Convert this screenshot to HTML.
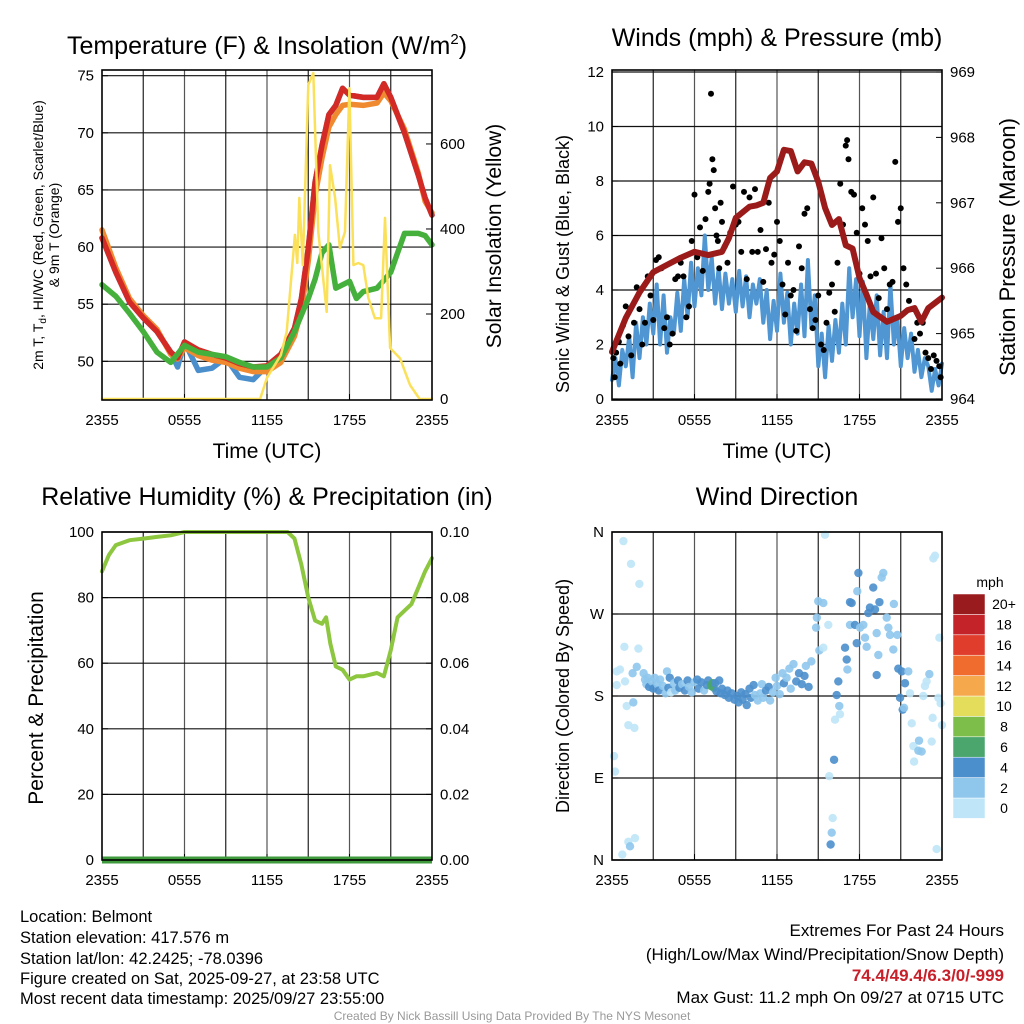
<!DOCTYPE html>
<html><head><meta charset="utf-8"><style>
html,body{margin:0;padding:0;background:#fff;}
svg{display:block;font-family:"Liberation Sans",sans-serif;}
</style></head><body>
<svg id="s" width="1024" height="1024" viewBox="0 0 1024 1024">
<g id="static">
<text x="267" y="54" font-size="25" text-anchor="middle">Temperature (F) &amp; Insolation (W/m<tspan dy="-10" font-size="15">2</tspan><tspan dy="10">)</tspan></text>
<text x="777" y="46" font-size="25" text-anchor="middle">Winds (mph) &amp; Pressure (mb)</text>
<text x="267" y="505" font-size="25" text-anchor="middle">Relative Humidity (%) &amp; Precipitation (in)</text>
<text x="777" y="505" font-size="25" text-anchor="middle">Wind Direction</text>
<text x="267" y="458" font-size="21" text-anchor="middle">Time (UTC)</text>
<text x="777" y="458" font-size="21" text-anchor="middle">Time (UTC)</text>
<text transform="translate(43,235) rotate(-90)" font-size="14" text-anchor="middle">2m T, T<tspan dy="3" font-size="10">d</tspan><tspan dy="-3">, HI/WC (Red, Green, Scarlet/Blue)</tspan></text>
<text transform="translate(59,235) rotate(-90)" font-size="14" text-anchor="middle">&amp; 9m T (Orange)</text>
<text transform="translate(501,236) rotate(-90)" font-size="21" text-anchor="middle">Solar Insolation (Yellow)</text>
<text transform="translate(569,264) rotate(-90)" font-size="18" text-anchor="middle">Sonic Wind &amp; Gust (Blue, Black)</text>
<text transform="translate(1015,247) rotate(-90)" font-size="22" text-anchor="middle">Station Pressure (Maroon)</text>
<text transform="translate(43,698) rotate(-90)" font-size="21" text-anchor="middle">Percent &amp; Precipitation</text>
<text transform="translate(569,696) rotate(-90)" font-size="18" text-anchor="middle">Direction (Colored By Speed)</text>
<text x="990" y="587" font-size="14" text-anchor="middle">mph</text>
<g font-size="16.5">
<text x="20" y="922">Location: Belmont</text>
<text x="20" y="943">Station elevation: 417.576 m</text>
<text x="20" y="964">Station lat/lon: 42.2425; -78.0396</text>
<text x="20" y="984">Figure created on Sat, 2025-09-27, at 23:58 UTC</text>
<text x="20" y="1004">Most recent data timestamp: 2025/09/27 23:55:00</text>
</g>
<g font-size="17" text-anchor="end">
<text x="1004" y="936">Extremes For Past 24 Hours</text>
<text x="1004" y="960">(High/Low/Max Wind/Precipitation/Snow Depth)</text>
<text x="1004" y="981" fill="#c8202a" font-weight="bold">74.4/49.4/6.3/0/-999</text>
<text x="1004" y="1003">Max Gust: 11.2 mph On 09/27 at 0715 UTC</text>
</g>
<text x="512" y="1020" font-size="12" fill="#999" text-anchor="middle">Created By Nick Bassill Using Data Provided By The NYS Mesonet</text>
</g>
<g id="g"></g>
</svg>
<script>
// ---------- data ----------
const xTickLabels = ["2355","0555","1155","1755","2355"];
const tHours = [0,1,2,3,4,5,5.5,6,7,8,9,10,11,12,13,14,14.5,15,15.5,16,16.5,17,17.5,18,19,20,20.5,21,22,23,23.5,24];
const tempRed = [60.8,57.8,55.2,53.8,52.6,50.8,50.3,51.7,51.0,50.6,50.3,49.8,49.5,49.6,50.6,52.9,55.5,59.9,65.7,68.9,71.6,72.4,73.9,73.3,73.1,73.1,74.3,73.1,70.0,66.3,64.3,62.8];
const tempOrange = [61.5,58.2,55.5,54.0,52.8,50.6,50.2,51.2,50.5,50.1,49.9,49.4,49.1,49.1,49.9,52.2,54.5,58.8,64.5,67.8,70.5,71.6,72.4,72.5,72.4,72.6,73.5,72.8,70.3,66.5,64.0,63.0];
const tempBlue = [60.8,57.8,55.2,53.8,52.6,50.8,49.5,51.7,49.2,49.4,50.3,48.6,48.4,49.6,50.6,52.9,55.5,59.9,65.7,68.9,71.6,72.4,73.9,73.3,73.1,73.1,74.3,73.1,70.0,66.3,64.3,62.8];
const dewHours = [0,1,2,3,4,5,6,7,8,9,10,11,12,13,14,15,15.5,16,16.5,17,18,18.5,19,20,21,21.5,22,23,23.5,24];
const dewGreen = [56.7,55.7,54.2,52.6,50.8,49.9,51.4,50.8,50.6,50.4,49.9,49.5,49.5,50.3,52.6,55.5,57.2,59.5,60.2,56.4,57.0,55.5,56.1,56.4,57.8,59.5,61.2,61.2,61.0,60.2];
const solarHours = [0,11.5,12,13,13.43,14.03,14.2,14.35,14.6,15.0,15.37,15.73,16.34,16.58,16.95,17.3,17.67,17.99,18.28,18.64,19.0,19.37,19.85,20.3,20.58,20.95,21.67,22.4,23.1,24];
const solarVals = [0,0,50,103,158,386,320,473,315,739,767,393,205,550,473,355,393,731,315,320,315,238,190,190,426,120,96,33,0,0];
const tempTicks = [50,55,60,65,70,75];
const solarTicks = [0,200,400,600];

const windHours = [];for(let i=0;i<=96;i++)windHours.push(i/4);
const sonicWind = [0.7,1.5,0.5,1.8,1.2,2.3,0.8,2.8,1.5,3.0,2.0,3.5,2.4,4.2,2.0,3.8,1.7,3.0,2.4,3.9,2.5,4.4,3.0,5.0,3.4,4.8,3.8,6.0,4.0,5.2,3.5,4.8,3.3,4.6,3.5,4.4,3.2,4.7,3.4,4.5,3.0,4.2,3.5,4.4,2.8,4.0,2.2,3.6,2.5,4.6,2.8,3.9,2.0,3.5,2.4,4.2,2.3,5.1,2.6,3.8,1.2,2.4,0.8,2.7,1.4,2.9,1.7,3.5,2.0,4.8,3.0,4.4,2.3,4.3,1.5,3.5,2.2,3.8,1.6,3.2,1.5,4.2,2.0,3.0,1.2,2.6,1.5,2.4,1.0,1.8,0.8,1.5,1.2,0.3,1.1,0.5,1.3];
const gustHours = [0.1,0.2,0.3,0.5,0.6,0.8,1.0,1.2,1.4,1.6,1.8,2.0,2.2,2.4,2.6,2.8,3.0,3.2,3.4,3.6,3.8,4.0,4.2,4.4,4.6,4.8,5.0,5.2,5.4,5.6,5.8,6.0,6.2,6.4,6.6,6.8,7.0,7.1,7.2,7.3,7.4,7.5,7.6,7.7,7.8,7.9,8.0,8.2,8.4,8.6,8.8,9.0,9.2,9.4,9.6,9.8,10.0,10.2,10.4,10.6,10.8,11.0,11.2,11.4,11.6,11.8,12.0,12.2,12.4,12.6,12.8,13.0,13.2,13.4,13.6,13.8,14.0,14.2,14.4,14.6,14.8,15.0,15.2,15.4,15.6,15.8,16.0,16.2,16.4,16.6,16.8,17.0,17.1,17.2,17.4,17.6,17.8,18.0,18.2,18.4,18.6,18.8,19.0,19.2,19.4,19.6,19.8,20.0,20.2,20.4,20.6,20.8,21.0,21.2,21.4,21.6,21.8,22.0,22.2,22.4,22.6,22.8,23.0,23.2,23.4,23.6,23.8,23.9];
const gustVals = [1.5,0.8,1.7,2.1,1.3,2.7,3.4,2.3,1.6,2.8,4.1,3.3,2.0,2.8,4.5,3.8,2.9,5.1,5.2,4.8,2.6,3.0,2.0,2.4,4.4,4.5,5.0,4.5,3.0,3.4,5.8,7.5,5.2,6.3,4.7,6.6,7.6,7.9,11.2,8.8,8.4,7.0,6.0,5.8,4.8,7.2,6.5,5.6,5.0,6.1,7.8,6.4,6.5,5.4,7.6,4.4,7.4,5.4,7.7,5.4,6.2,4.3,5.5,7.2,5.0,5.3,6.5,5.8,4.2,3.1,5.0,3.8,4.0,2.5,5.6,4.8,6.8,7.0,3.3,2.6,2.9,3.8,2.0,1.8,2.8,3.9,4.2,3.2,5.0,7.9,6.4,9.3,9.5,8.8,7.6,7.5,6.1,4.6,7.0,6.4,5.8,4.5,7.4,4.6,3.7,5.9,4.8,3.3,4.2,4.3,8.7,6.5,7.0,4.8,4.2,3.6,3.3,2.2,2.8,2.4,2.8,1.7,1.5,1.1,1.6,1.4,1.2,0.8];
const presHours = [0,1,2,3,4,5,6,7,8,8.5,9,10,10.5,11,11.5,12,12.5,13,13.5,14,14.5,15,15.5,16,16.5,17,17.5,18,18.5,19,20,21,21.5,22,22.5,23,24];
const presVals = [964.72,965.24,965.63,965.94,966.05,966.16,966.25,966.2,966.25,966.46,966.77,966.94,966.96,967.0,967.38,967.48,967.81,967.79,967.48,967.62,967.6,967.32,966.92,966.66,966.75,966.35,966.3,965.85,965.6,965.33,965.18,965.27,965.36,965.39,965.18,965.39,965.55];
const windTicks = [0,2,4,6,8,10,12];
const presTicks = [964,965,966,967,968,969];

const rhHours = [0,0.5,1,2,3,4,5,6,13.5,14,14.5,15,15.5,16,16.3,16.6,17,17.5,18,18.5,19,20,20.5,21,21.5,22,22.5,23,23.5,24];
const rhVals = [88,93,96,97.5,98,98.5,99,100,100,98,90,80,73,72,74,66,59,58,55,56,56,57,56,64,74,76,78,83,88,92];
const precipHours = [0,24];
const precipVals = [0,0];
const rhTicks = [0,20,40,60,80,100];
const precipTicks = ["0.00","0.02","0.04","0.06","0.08","0.10"];

const dirHours = [0.83,1.38,1.99,0.9,1.92,0.34,0.58,0.34,0.95,1.07,1.19,1.63,0.15,0.22,1.19,1.67,0.75,1.31,1.55,1.5,1.8,
2.3,2.4,2.5,2.6,2.7,2.9,3.0,3.1,3.3,3.4,3.5,3.7,3.9,4.0,4.1,4.2,4.3,4.5,4.6,4.8,4.9,5.1,5.3,5.5,5.6,5.8,6.0,6.2,6.3,6.5,6.7,6.9,7.0,7.2,7.3,7.4,7.5,7.6,7.8,7.9,8.0,8.2,8.4,8.5,8.7,8.9,9.1,9.2,9.4,9.5,9.7,9.8,10.0,10.1,10.3,10.4,10.6,10.8,10.9,11.0,11.2,11.4,11.5,11.7,11.9,12.0,12.2,12.4,12.5,12.7,12.9,13.0,13.2,13.4,13.6,13.8,14.0,14.1,14.3,14.5,
14.9,14.84,15.0,15.37,15.08,15.37,15.73,15.49,16.46,16.34,16.53,16.58,16.22,16.15,15.8,16.05,15.98,15.9,
16.95,17.07,17.12,17.43,17.31,17.8,17.92,17.84,17.31,17.67,18.04,18.28,18.4,18.52,18.64,18.76,19.0,19.13,19.45,19.25,19.37,19.25,19.61,19.73,19.98,20.1,20.22,20.5,20.46,20.75,
20.82,21.07,20.95,21.14,21.31,21.24,21.55,21.67,21.8,21.92,22.33,22.28,22.52,21.97,22.64,22.76,22.88,23.08,23.25,23.32,23.49,23.37,23.61,23.81,23.73,24,23.9];
const dirDeg = [350,325,303,234,232,207,209,192,196,169,148,145,114,97,20,24,6,15,173,205,212,
205,198,193,200,190,196,188,200,193,186,198,191,183,207,189,200,184,194,186,197,189,193,186,197,190,184,195,198,188,195,186,192,197,191,194,189,194,185,197,183,188,181,186,178,183,176,180,173,184,176,182,170,188,178,192,181,175,183,193,178,186,190,175,184,200,191,182,205,194,200,210,188,215,196,205,193,202,213,190,218,
266,255,284,282,230,233,258,357,196,181,169,160,154,110,92,46,30,17,
233,220,209,282,283,238,315,295,258,258,255,258,244,234,271,277,299,275,283,203,225,249,310,315,266,255,247,281,231,247,
210,207,178,165,194,167,207,183,150,125,131,120,119,108,180,191,196,204,130,156,334,331,12,244,178,148,172];
const dirSpeed = [1,1,1,1,1,1,1,1,1,1,1,1,1,1,1,1,1,3,3,3,2.5,
3,3,3,3,4,3,4,3,3,4,3,3,3,3,4,4,1,3,2,4,4,3,4,4,3,3,3,4,4,4,3,5,4,7,7,7,4,4,4,4,4,4,4,4,4,4,4,4,4,4,4,5,4,4,4,3,3,3,3,3,4,4,3,3,3,3,3,3,4,3,3,3,3,4,4,4,4,3,4,3,
3,3,3,3,3,1,1,1,4,4,3,1,1,4,1,1,3,4,
4,4,3,4,4,4,4,3,3,4,3,3,3,3,4,4,4,4,4,4,3,3,3,3,3,3,3,3,3,3,
4,4,4,4,4,3,3,1,1,1,3,3,3,1,1,1,1,3,1,1,1,1,1,1,1,1,1];
const dirTickLabels = ["N","E","S","W","N"];
const cbLabels = ["0","2","4","6","8","10","12","14","16","18","20+"];
const cbColors = ["#bfe6f8","#8ec6ec","#4b8fcc","#4aa66d","#7dbd4a","#e4dd5c","#f6a94c","#ef6b2e","#e13d2d","#c5232a","#9a1b1d"];

// ---------- helpers ----------
const NS="http://www.w3.org/2000/svg";
const root=document.getElementById('g');
function mk(tag,attrs,parent){const e=document.createElementNS(NS,tag);for(const k in attrs)e.setAttribute(k,attrs[k]);(parent||root).appendChild(e);return e;}
const P1={x0:102,x1:432,y0:70,y1:400}, P2={x0:612,x1:942,y0:70,y1:400}, P3={x0:102,x1:432,y0:532,y1:860}, P4={x0:612,x1:942,y0:532,y1:860};
function xs(P){return h=>P.x0+h/24*(P.x1-P.x0);}
function lin(d0,d1,r0,r1){return v=>r0+(v-d0)/(d1-d0)*(r1-r0);}

function frame(P,name,hLines){
  const g=mk('g',{});
  
  
  for(let i=1;i<8;i++){const x=P.x0+i*(P.x1-P.x0)/8;mk('line',{x1:x,x2:x,y1:P.y0,y2:P.y1,stroke:i%2?'#222':'#555','stroke-width':1.2},g);}
  hLines.forEach(y=>mk('line',{x1:P.x0,x2:P.x1,y1:y,y2:y,stroke:'#111','stroke-width':1.2},g));
  const xl=xs(P);
  xTickLabels.forEach((t,i)=>{
    const tx=mk('text',{x:xl(i*6),y:P.y1+25,'font-size':15,'text-anchor':'middle'},g);
    
    
    tx.textContent=t;
    mk('line',{x1:xl(i*6),x2:xl(i*6),y1:P.y1,y2:P.y1-6,stroke:'#000'},g);
  });
  return g;
}
function border(P,name){
  const r=mk('rect',{x:P.x0,y:P.y0,width:P.x1-P.x0,height:P.y1-P.y0,fill:'none',stroke:'#000','stroke-width':1.6});
  
  
}
function yTicks(P,vals,labels,ys,side){
  vals.forEach((v,i)=>{
    const y=ys(v);
    const x= side==='l'?P.x0-8:P.x1+8;
    const t=mk('text',{x:x,y:y+5,'font-size':15,'text-anchor':side==='l'?'end':'start'});
    
    
    t.textContent=labels[i];
    const xx=side==='l'?P.x0:P.x1;
    mk('line',{x1:xx,x2:side==='l'?xx+6:xx-6,y1:y,y2:y,stroke:'#000'});
  });
}
function path(xsF,ysF,hs,vs,attrs,name){
  let d='';hs.forEach((h,i)=>{d+=(i?'L':'M')+xsF(h).toFixed(1)+','+ysF(vs[i]).toFixed(1);});
  const p=mk('path',Object.assign({d:d,fill:'none','stroke-linejoin':'round','stroke-linecap':'round'},attrs));
  
  
  return p;
}

// ---------- panel 1 ----------
{const P=P1,x=xs(P),yT=lin(46.7,75.5,399,70),yS=lin(0,774,399,70);
frame(P,'temp',tempTicks.map(yT));
yTicks(P,tempTicks,tempTicks.map(String),yT,'l');
yTicks(P,solarTicks,solarTicks.map(String),yS,'r');
path(x,yT,tHours,tempBlue,{stroke:'#4a8fcc','stroke-width':5.5},'hiwc-line');
path(x,yT,tHours,tempOrange,{stroke:'#f08a30','stroke-width':5.5},'temp-9m-line');
path(x,yT,tHours,tempRed,{stroke:'#d42a26','stroke-width':5.5},'temp-2m-line');
path(x,yT,dewHours,dewGreen,{stroke:'#45b03c','stroke-width':5.5},'dewpoint-line');
path(x,yS,solarHours,solarVals,{stroke:'#fbe05a','stroke-width':2.5},'solar-line');
border(P,'temp');}

// ---------- panel 2 ----------
{const P=P2,x=xs(P),yW=lin(0,12,399,72),yP=lin(964,969,399,72);
frame(P,'wind',windTicks.map(yW));
yTicks(P,windTicks,windTicks.map(String),yW,'l');
yTicks(P,presTicks,presTicks.map(String),yP,'r');
path(x,yW,windHours,sonicWind,{stroke:'#4f96d2','stroke-width':4},'sonic-wind-line');
gustHours.forEach((h,i)=>{
  const c=mk('circle',{cx:x(h),cy:yW(gustVals[i]),r:3,fill:'#000'});
  
  
});
path(x,yP,presHours,presVals,{stroke:'#9b1a1a','stroke-width':6},'pressure-line');
border(P,'wind');}

// ---------- panel 3 ----------
{const P=P3,x=xs(P),yR=lin(0,100,860,532),yPr=lin(0,0.1,860,532);
frame(P,'rh',rhTicks.map(yR));
yTicks(P,rhTicks,rhTicks.map(String),yR,'l');
yTicks(P,precipTicks.map(Number),precipTicks,yPr,'r');
path(x,yR,rhHours,rhVals,{stroke:'#8dc63f','stroke-width':4},'rh-line');
path(x,yPr,precipHours,precipVals,{stroke:'#3e9a3c','stroke-width':7,'stroke-linecap':'butt'},'precip-line');
border(P,'rh');}

// ---------- panel 4 ----------
{const P=P4,x=xs(P),yD=lin(0,360,860,532);
frame(P,'wdir',[0,90,180,270,360].map(yD));
yTicks(P,[0,90,180,270,360],dirTickLabels,yD,'l');
dirHours.forEach((h,i)=>{
  const b=Math.min(10,Math.floor(dirSpeed[i]/2));
  const c=mk('circle',{cx:x(h),cy:yD(dirDeg[i]),r:4.2,fill:cbColors[b],'fill-opacity':0.9});
  
  
});
border(P,'wdir');
const bh=20.4, top=594;
cbColors.forEach((c,i)=>{
  const y=top+(10-i)*bh;
  const r=mk('rect',{x:953,y:y,width:32,height:bh,fill:c,stroke:'#fff','stroke-width':0.5});
  
  
  const t=mk('text',{x:1004,y:y+bh/2+5,'font-size':14,'text-anchor':'middle'});
  
  
  t.textContent=cbLabels[i];
});}
</script>
</body></html>
